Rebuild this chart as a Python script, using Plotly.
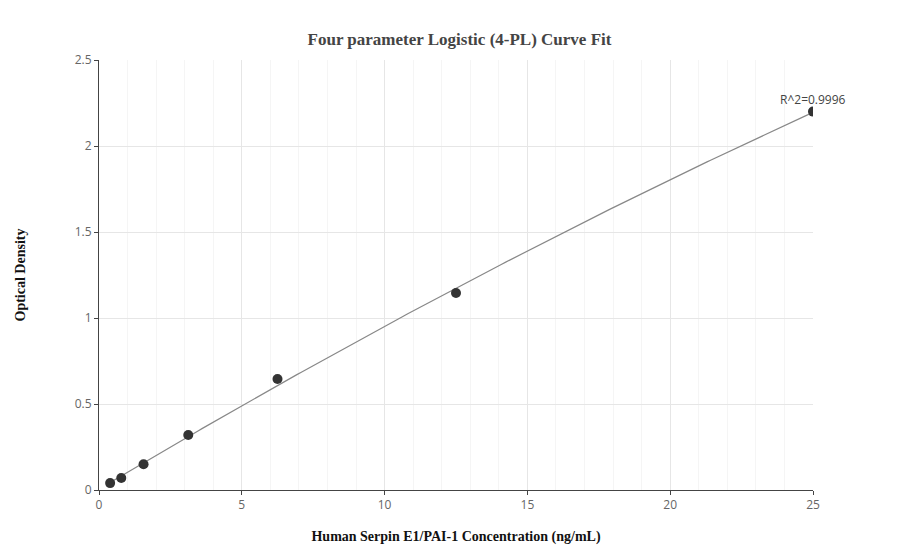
import numpy as np
import plotly.graph_objects as go

conc = [0.39, 0.78, 1.56, 3.125, 6.25, 12.5, 25]
od = [0.04, 0.07, 0.15, 0.32, 0.645, 1.145, 2.2]

coef = np.polyfit(conc, od, 2)
xs = np.linspace(min(conc), max(conc), 200)
ys = np.polyval(coef, xs)

fig = go.Figure()
fig.add_trace(go.Scatter(x=xs, y=ys, mode="lines", line=dict(color="#888888", width=1.2), hoverinfo="skip"))
fig.add_trace(go.Scatter(x=conc, y=od, mode="markers", marker=dict(color="#333333", size=10)))
fig.add_annotation(x=25, y=2.2, text="R^2=0.9996", showarrow=False, yshift=12,
                   font=dict(family="Open Sans", size=12, color="#444"))
axfont = dict(family="Open Sans", size=12, color="#666")
fig.update_layout(
    width=903, height=560, showlegend=False, plot_bgcolor="white", paper_bgcolor="white",
    margin=dict(l=82, r=98, t=52, b=78),
    title=dict(text="<b>Four parameter Logistic (4-PL) Curve Fit</b>", x=0.5, y=0.955,
               font=dict(family="Times New Roman, Liberation Serif", size=17, color="#444")),
    xaxis=dict(range=[0, 25], dtick=5, showline=True, linecolor="#444", ticks="outside", ticklen=4,
               gridcolor="#e6e6e6", minor=dict(dtick=1, showgrid=True, gridcolor="#f5f5f5"),
               zeroline=False, tickfont=axfont,
               title=dict(text="<b>Human Serpin E1/PAI-1 Concentration (ng/mL)</b>", standoff=18,
                          font=dict(family="Times New Roman, Liberation Serif", size=14, color="#111"))),
    yaxis=dict(range=[0, 2.5], dtick=0.5, showline=True, linecolor="#444", ticks="outside", ticklen=4,
               gridcolor="#e6e6e6",
               zeroline=False, tickfont=axfont,
               title=dict(text="<b>Optical Density</b>", standoff=45,
                          font=dict(family="Times New Roman, Liberation Serif", size=14, color="#111"))),
)
fig.write_html("out.html")
